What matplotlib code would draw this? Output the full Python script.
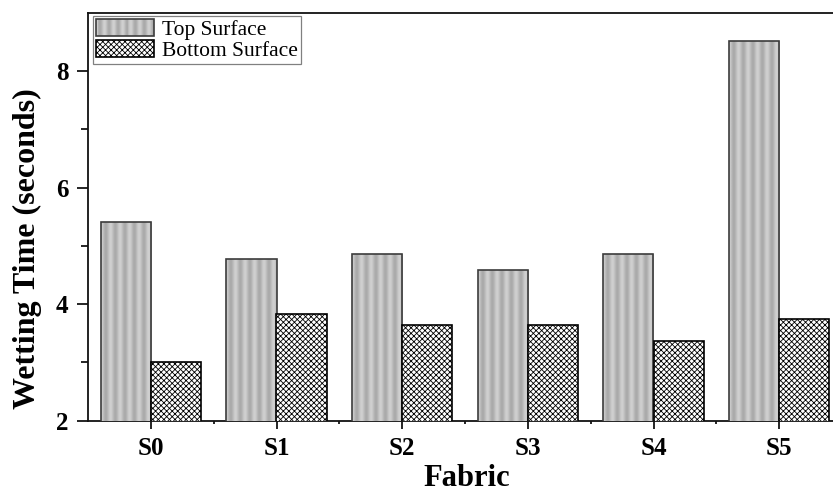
import numpy as np
import matplotlib
matplotlib.use("Agg")
import matplotlib.pyplot as plt
import matplotlib.patches as mpatches
from matplotlib.legend_handler import HandlerBase

# ---- data ----
fabrics = ["S0", "S1", "S2", "S3", "S4", "S5"]
top_surface = [5.42, 4.77, 4.87, 4.58, 4.87, 8.52]
bottom_surface = [3.00, 3.84, 3.65, 3.65, 3.37, 3.74]
series_labels = ["Top Surface", "Bottom Surface"]
y_ticks = [2, 4, 6, 8]
y_minor = [3, 5, 7]
x_label = "Fabric"
y_label = "Wetting Time (seconds)"

plt.rcParams["font.family"] = ["Liberation Serif", "DejaVu Serif"]
plt.rcParams["hatch.linewidth"] = 0.6

W, H = 833, 492
fig = plt.figure(figsize=(W / 100, H / 100), dpi=100)
ax_left, ax_right, ax_top, ax_bot = 88, 842, 13, 420.7
ax = fig.add_axes([ax_left / W, 1 - ax_bot / H, (ax_right - ax_left) / W, (ax_bot - ax_top) / H])

x = np.arange(len(fabrics))
w = 0.4
ax.set_xlim(-0.5, 5.5)
ax.set_ylim(2, 9)

def stripe_profile(n, width_units, period):
    t = np.linspace(0, width_units, n)
    return 0.74 + 0.075 * np.cos(2 * np.pi * t / period)

# top surface bars: outline + striped grey fill clipped to bar
top_bars = ax.bar(x - w / 2, top_surface, w, facecolor="none",
                  edgecolor="#3c3c3c", linewidth=1.2, zorder=4)
y0 = ax.get_ylim()[0]
for rect in top_bars.patches:
    rx, rw, rh = rect.get_x(), rect.get_width(), rect.get_height()
    prof = stripe_profile(200, rw, 0.075)
    im = ax.imshow(prof[None, :], cmap="gray", vmin=0, vmax=1,
                   extent=(rx, rx + rw, y0, rh), aspect="auto",
                   interpolation="bilinear", zorder=3)
    im.set_clip_path(rect)

# bottom surface bars: cross hatch
bottom_bars = ax.bar(x + w / 2, bottom_surface, w, facecolor="white",
                     edgecolor="black", hatch="xxxxxx", linewidth=1.2, zorder=4)

ax.set_xlim(-0.5, 5.5)
ax.set_ylim(2, 9)
ax.set_aspect("auto")

ax.set_yticks(y_ticks)
ax.set_yticks(y_minor, minor=True)
ax.set_xticks(x)
ax.set_xticklabels(fabrics)
ax.set_xticks(x[:-1] + 0.5, minor=True)

ax.tick_params(axis="y", which="major", direction="out", length=8, width=1.2,
               pad=6, labelsize=18)
ax.tick_params(axis="y", which="minor", direction="out", length=5, width=1.2)
ax.tick_params(axis="x", which="major", direction="out", length=6, width=1.2,
               pad=6, labelsize=18)
ax.tick_params(axis="x", which="minor", direction="out", length=2.5, width=1.2)
for lab in ax.get_xticklabels() + ax.get_yticklabels():
    lab.set_fontweight("bold")

for s in ax.spines.values():
    s.set_linewidth(1.3)
    s.set_color("#111111")


class StripeHandler(HandlerBase):
    def create_artists(self, legend, orig_handle, xdescent, ydescent,
                       width, height, fontsize, trans):
        arts = []
        n = 60
        prof = stripe_profile(n, 1.0, 1.0 / 6.5)
        sw = width / n
        for i, g in enumerate(prof):
            r = mpatches.Rectangle((-xdescent + i * sw, -ydescent), sw * 1.05, height,
                                   facecolor=(g, g, g), edgecolor="none",
                                   transform=trans)
            arts.append(r)
        outline = mpatches.Rectangle((-xdescent, -ydescent), width, height,
                                     facecolor="none", edgecolor="#3c3c3c",
                                     linewidth=1.2, transform=trans)
        arts.append(outline)
        return arts


top_proxy = mpatches.Patch(facecolor="#b8b8b8")
fs = 15.5
leg = ax.legend([top_proxy, bottom_bars], series_labels,
                loc="upper left",
                bbox_to_anchor=((93 - ax_left) / (ax_right - ax_left),
                                (ax_bot - 16) / (ax_bot - ax_top)),
                borderaxespad=0, fontsize=fs,
                handlelength=41.8 / fs, handleheight=13.7 / fs,
                labelspacing=0.0, handletextpad=0.4, borderpad=0.12,
                frameon=True, fancybox=False, framealpha=1,
                edgecolor="#808080",
                handler_map={top_proxy: StripeHandler()})
leg.get_frame().set_linewidth(0.9)
leg.set_zorder(10)

fig.text(27 / W, 1 - 249 / H, y_label, rotation=90, ha="center", va="center",
         fontsize=23, fontweight="bold")
fig.text(466.5 / W, 1 - 486 / H, x_label, ha="center", va="baseline",
         fontsize=22, fontweight="bold")

fig.savefig("out.png", dpi=100)
